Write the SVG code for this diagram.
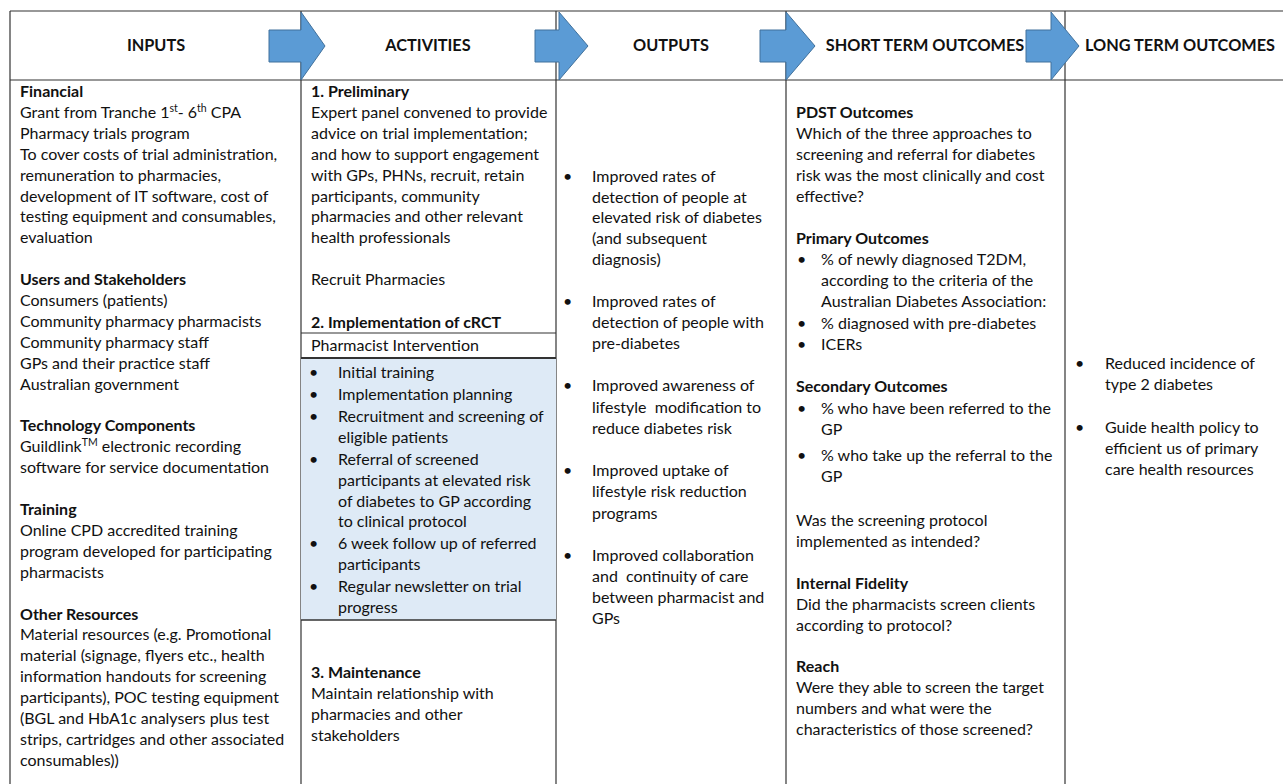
<svg xmlns="http://www.w3.org/2000/svg" width="1283" height="784" viewBox="0 0 1283 784">
<style>
text{font-family:Lato,"Liberation Sans",sans-serif;font-size:16px;fill:#111}
.b{font-weight:bold}
.h{font-weight:bold;font-size:16.3px;text-anchor:middle}
.ln{stroke:#333;stroke-width:1.2;fill:none}
.arr{fill:#5B9BD5;stroke:#41719C;stroke-width:1}
.sup{font-size:10.5px}
</style>
<rect width="1283" height="784" fill="#fff"/>
<g id="grid">
<line class="ln" x1="10" y1="11" x2="1283" y2="11"/>
<line class="ln" x1="10" y1="80" x2="1283" y2="80"/>
<line class="ln" x1="10" y1="11" x2="10" y2="784"/>
<line class="ln" x1="301" y1="11" x2="301" y2="784"/>
<line class="ln" x1="556" y1="11" x2="556" y2="784"/>
<line class="ln" x1="786" y1="11" x2="786" y2="784"/>
<line class="ln" x1="1065" y1="11" x2="1065" y2="784"/>
</g>
<g id="header-inputs"><text class="h" x="156" y="51">INPUTS</text></g>
<g id="header-activities"><text class="h" x="428" y="51">ACTIVITIES</text></g>
<g id="header-outputs"><text class="h" x="671" y="51">OUTPUTS</text></g>
<g id="header-short"><text class="h" x="925" y="51">SHORT TERM OUTCOMES</text></g>
<g id="header-long"><text class="h" x="1180" y="51">LONG TERM OUTCOMES</text></g>
<g id="connectors">
<polygon class="arr" points="269,30 301,30 301,12 325,46 301,80 301,62 269,62"/>
<polygon class="arr" points="535,30 559,30 559,12 588,46 559,80 559,62 535,62"/>
<polygon class="arr" points="760,30 786,30 786,12 815,46 786,80 786,62 760,62"/>
<polygon class="arr" points="1026,30 1051,30 1051,12 1079,46 1051,80 1051,62 1026,62"/>
</g>
<g id="inputs">
<text class="b" x="20" y="97">Financial</text>
<text x="20" y="117.9">Grant from Tranche 1<tspan class="sup" baseline-shift="super">st</tspan>- 6<tspan class="sup" baseline-shift="super">th</tspan> CPA</text>
<text x="20" y="138.8">Pharmacy trials program</text>
<text x="20" y="159.7">To cover costs of trial administration,</text>
<text x="20" y="180.6">remuneration to pharmacies,</text>
<text x="20" y="201.5">development of IT software, cost of</text>
<text x="20" y="222.4">testing equipment and consumables,</text>
<text x="20" y="243.3">evaluation</text>
<text class="b" x="20" y="285.1">Users and Stakeholders</text>
<text x="20" y="306">Consumers (patients)</text>
<text x="20" y="326.9">Community pharmacy pharmacists</text>
<text x="20" y="347.8">Community pharmacy staff</text>
<text x="20" y="368.7">GPs and their practice staff</text>
<text x="20" y="389.6">Australian government</text>
<text class="b" x="20" y="431.4">Technology Components</text>
<text x="20" y="452.3">Guildlink<tspan class="sup" baseline-shift="super">TM</tspan> electronic recording</text>
<text x="20" y="473.2">software for service documentation</text>
<text class="b" x="20" y="515">Training</text>
<text x="20" y="535.9">Online CPD accredited training</text>
<text x="20" y="556.8">program developed for participating</text>
<text x="20" y="577.7">pharmacists</text>
<text class="b" x="20" y="619.5">Other Resources</text>
<text x="20" y="640.4">Material resources (e.g. Promotional</text>
<text x="20" y="661.3">material (signage, flyers etc., health</text>
<text x="20" y="682.2">information handouts for screening</text>
<text x="20" y="703.1">participants), POC testing equipment</text>
<text x="20" y="724">(BGL and HbA1c analysers plus test</text>
<text x="20" y="744.9">strips, cartridges and other associated</text>
<text x="20" y="765.8">consumables))</text>
</g>
<g id="activities">
<rect x="301" y="358" width="255" height="262" fill="#DEEAF6"/>
<line x1="301" y1="333" x2="556" y2="333" stroke="#333" stroke-width="1.2"/>
<line x1="301" y1="358" x2="556" y2="358" stroke="#333" stroke-width="2"/>
<line x1="301" y1="620" x2="556" y2="620" stroke="#333" stroke-width="1.6"/>
<text class="b" x="311" y="97">1. Preliminary</text>
<text x="311" y="117.9">Expert panel convened to provide</text>
<text x="311" y="138.8">advice on trial implementation;</text>
<text x="311" y="159.7">and how to support engagement</text>
<text x="311" y="180.6">with GPs, PHNs, recruit, retain</text>
<text x="311" y="201.5">participants, community</text>
<text x="311" y="222.4">pharmacies and other relevant</text>
<text x="311" y="243.3">health professionals</text>
<text x="311" y="285.1">Recruit Pharmacies</text>
<text class="b" x="311" y="327.5">2. Implementation of cRCT</text>
<text x="311" y="351">Pharmacist Intervention</text>
<text x="309" y="378">•</text><text x="338" y="378">Initial training</text>
<text x="309" y="400">•</text><text x="338" y="400">Implementation planning</text>
<text x="309" y="422">•</text><text x="338" y="422">Recruitment and screening of</text>
<text x="338" y="443">eligible patients</text>
<text x="309" y="465">•</text><text x="338" y="465">Referral of screened</text>
<text x="338" y="486">participants at elevated risk</text>
<text x="338" y="507">of diabetes to GP according</text>
<text x="338" y="527">to clinical protocol</text>
<text x="309" y="549">•</text><text x="338" y="549">6 week follow up of referred</text>
<text x="338" y="570">participants</text>
<text x="309" y="592">•</text><text x="338" y="592">Regular newsletter on trial</text>
<text x="338" y="613">progress</text>
<text class="b" x="311" y="678">3. Maintenance</text>
<text x="311" y="699">Maintain relationship with</text>
<text x="311" y="720">pharmacies and other</text>
<text x="311" y="741">stakeholders</text>
</g>
<g id="outputs">
<text x="563" y="182">•</text><text x="592" y="182">Improved rates of</text>
<text x="592" y="203">detection of people at</text>
<text x="592" y="223">elevated risk of diabetes</text>
<text x="592" y="244">(and subsequent</text>
<text x="592" y="265">diagnosis)</text>
<text x="563" y="307">•</text><text x="592" y="307">Improved rates of</text>
<text x="592" y="328">detection of people with</text>
<text x="592" y="349">pre-diabetes</text>
<text x="563" y="391">•</text><text x="592" y="391">Improved awareness of</text>
<text x="592" y="413" xml:space="preserve">lifestyle  modification to</text>
<text x="592" y="434">reduce diabetes risk</text>
<text x="563" y="476">•</text><text x="592" y="476">Improved uptake of</text>
<text x="592" y="497">lifestyle risk reduction</text>
<text x="592" y="519">programs</text>
<text x="563" y="561">•</text><text x="592" y="561">Improved collaboration</text>
<text x="592" y="582" xml:space="preserve">and  continuity of care</text>
<text x="592" y="603">between pharmacist and</text>
<text x="592" y="624">GPs</text>
</g>
<g id="short-term">
<text class="b" x="796" y="118">PDST Outcomes</text>
<text x="796" y="139">Which of the three approaches to</text>
<text x="796" y="160">screening and referral for diabetes</text>
<text x="796" y="181">risk was the most clinically and cost</text>
<text x="796" y="202">effective?</text>
<text class="b" x="796" y="244">Primary Outcomes</text>
<text x="797" y="265">•</text><text x="821" y="265">% of newly diagnosed T2DM,</text>
<text x="821" y="286">according to the criteria of the</text>
<text x="821" y="307">Australian Diabetes Association:</text>
<text x="797" y="329">•</text><text x="821" y="329">% diagnosed with pre-diabetes</text>
<text x="797" y="350">•</text><text x="821" y="350">ICERs</text>
<text class="b" x="796" y="392">Secondary Outcomes</text>
<text x="797" y="414">•</text><text x="821" y="414">% who have been referred to the</text>
<text x="821" y="435">GP</text>
<text x="797" y="461">•</text><text x="821" y="461">% who take up the referral to the</text>
<text x="821" y="482">GP</text>
<text x="796" y="526">Was the screening protocol</text>
<text x="796" y="547">implemented as intended?</text>
<text class="b" x="796" y="589">Internal Fidelity</text>
<text x="796" y="610">Did the pharmacists screen clients</text>
<text x="796" y="631">according to protocol?</text>
<text class="b" x="796" y="672">Reach</text>
<text x="796" y="693">Were they able to screen the target</text>
<text x="796" y="714">numbers and what were the</text>
<text x="796" y="735">characteristics of those screened?</text>
</g>
<g id="long-term">
<text x="1075" y="369">•</text><text x="1105" y="369">Reduced incidence of</text>
<text x="1105" y="390">type 2 diabetes</text>
<text x="1075" y="433">•</text><text x="1105" y="433">Guide health policy to</text>
<text x="1105" y="454">efficient us of primary</text>
<text x="1105" y="475">care health resources</text>
</g>
</svg>
